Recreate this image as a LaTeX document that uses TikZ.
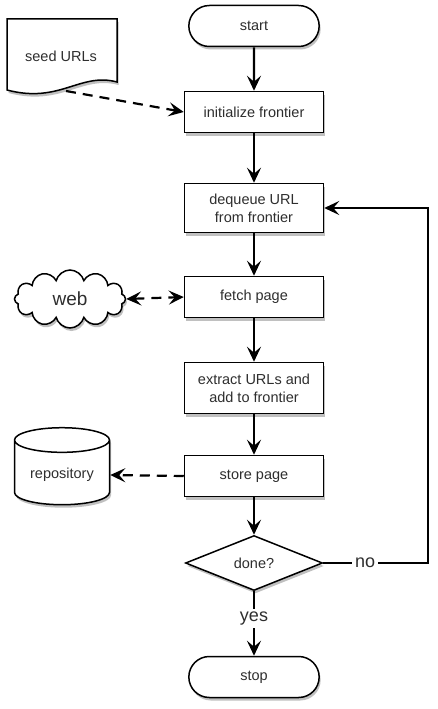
\documentclass[tikz,border=0pt]{standalone}
\usepackage{fontspec}
\setmainfont{Liberation Sans}
\usetikzlibrary{shapes.geometric,shapes.misc,shapes.symbols,shadows,arrows.meta}
\definecolor{txt}{HTML}{2E2E2E}
\tikzset{
  shade/.style={drop shadow={shadow xshift=1.5pt,shadow yshift=-3pt,opacity=0.45,fill=black!55}},
  tfont/.style={text=txt,font=\fontsize{14.5}{18}\selectfont},
  proc/.style={draw=black,line width=1.5pt,fill=white,minimum width=139pt,minimum height=41pt,inner sep=2pt,align=center,tfont,shade},
  term/.style={rounded rectangle,draw=black,line width=1.5pt,fill=white,minimum width=137pt,minimum height=41pt,tfont,shade},
  tip/.tip={Stealth[length=15pt,width=14pt,inset=6pt]},
  flow/.style={line width=2.2pt,-tip},
  dflow/.style={line width=2.2pt,dash pattern=on 10pt off 7pt,-tip},
  lbl/.style={fill=white,text=txt,font=\fontsize{18}{20}\selectfont,inner sep=3pt}
}
\begin{document}
\begin{tikzpicture}[x=1pt,y=-1pt]
\useasboundingbox (0,0) rectangle (437,709);
\node[term] (start) at (254,26) {start};
\node[proc] (init) at (254,112) {initialize frontier};
\node[proc,minimum height=49pt] (deq) at (254,208) {dequeue URL\\from frontier};
\node[proc] (fetch) at (254,297) {fetch page};
\node[proc,minimum height=51pt] (extr) at (254,388) {extract URLs and\\add to frontier};
\node[proc] (store) at (254,476) {store page};
\node[diamond,draw=black,line width=1.5pt,fill=white,minimum width=137pt,minimum height=55pt,inner sep=0pt,tfont,shade] (done) at (254,563) {done?};
\node[term] (stop) at (254,677) {stop};
% seed URLs document
\path[draw=black,line width=1.5pt,fill=white,shade] (7,19) -- (117,19) -- (117,82) .. controls (80,72) and (60,104) .. (7,90) -- cycle;
\node[tfont] (seed) at (61,56) {seed URLs};
\coordinate (seedb) at (66,91);
% web cloud
\node[cloud,cloud puffs=12,aspect=2.2,draw=black,line width=1.5pt,fill=white,minimum width=111pt,minimum height=58pt,text=txt,font=\fontsize{19}{22}\selectfont,shade] (web) at (70,299) {web};
% repository
\node[cylinder,shape border rotate=90,aspect=0.35,draw=black,line width=1.5pt,fill=white,minimum width=95pt,minimum height=77pt,tfont,shade] (repo) at (62,475) {repository};
% connectors
\draw[flow] (start) -- (init);
\draw[flow] (init) -- (deq);
\draw[flow] (deq) -- (fetch);
\draw[flow] (fetch) -- (extr);
\draw[flow] (extr) -- (store);
\draw[flow] (store) -- (done);
\draw[dflow] (seedb) -- (init.west);
\draw[dflow] (store.west) -- (repo.east);
\draw[line width=2.2pt,dash pattern=on 10pt off 7pt,tip-tip] (web.east) -- (fetch.west);
\coordinate (corner) at (428,563);
\draw[flow] (done.east) -- node[lbl,pos=0.4] (no) {no} (corner) |- (deq.east);
\draw[flow] (done.south) -- node[lbl,pos=0.42] (yes) {yes} (stop.north);
\end{tikzpicture}
\end{document}
